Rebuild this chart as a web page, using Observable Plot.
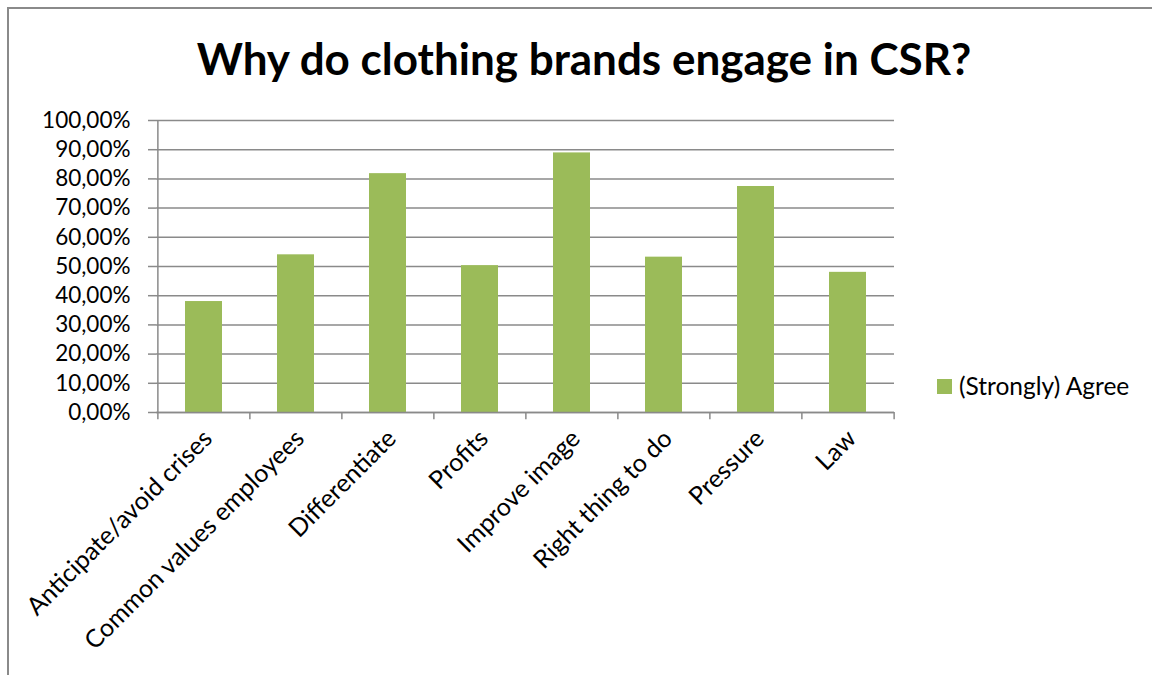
<!DOCTYPE html>
<html>
<head>
<meta charset="utf-8">
<script src="https://cdn.jsdelivr.net/npm/d3@7"></script>
<script src="https://cdn.jsdelivr.net/npm/@observablehq/plot@0.6"></script>
<style>
  html, body { margin: 0; padding: 0; background: #fff; }
  #wrap { position: relative; width: 1152px; height: 675px; overflow: hidden; font-family: Lato, "Open Sans", sans-serif; }
  #border { position: absolute; left: 7px; top: 7px; width: 1170px; height: 700px; border: 2px solid #8a8a8a; box-sizing: border-box; }
  #title { position: absolute; left: 8px; width: 1152px; top: 30px; text-align: center; font-weight: 700; font-size: 44px; line-height: 56px; color: #000; margin: 0; }
  #legend { position: absolute; left: 937px; top: 371px; font-size: 24.5px; line-height: 30px; color: #000; display: flex; align-items: center; }
  #legend .sw { width: 15px; height: 15px; background: #9BBB59; margin-right: 7px; }
  #chart { position: absolute; left: 0; top: 0; }
</style>
</head>
<body>
<div id="wrap">
  <div id="border"></div>
  <div id="title">Why do clothing brands engage in CSR?</div>
  <div id="chart"></div>
  <div id="legend"><div class="sw"></div><span id="legtext"></span></div>
</div>
<script>
const categories = ["Anticipate/avoid crises", "Common values employees", "Differentiate", "Profits", "Improve image", "Right thing to do", "Pressure", "Law"];
const values = [0.380, 0.540, 0.818, 0.503, 0.889, 0.532, 0.774, 0.480];
const seriesName = "(Strongly) Agree";
const yTicks = [0, 0.1, 0.2, 0.3, 0.4, 0.5, 0.6, 0.7, 0.8, 0.9, 1.0];

const data = categories.map((c, i) => ({category: c, value: values[i]}));
const fmt = d => (d * 100).toFixed(2).replace(".", ",") + "%";

const W = 1152, H = 675, mL = 156, mR = 258, mT = 120, mB = 263;
const step = (W - mL - mR) / categories.length;
const grey = "#8a8a8a";

document.getElementById("legtext").textContent = seriesName;

const chart = Plot.plot({
  width: W, height: H,
  marginLeft: mL, marginRight: mR, marginTop: mT, marginBottom: mB,
  style: {fontFamily: "Lato, 'Open Sans', sans-serif", fontSize: "22px", color: "#000", background: "transparent", overflow: "visible"},
  x: {domain: categories, paddingInner: 0.6, paddingOuter: 0.3, label: null},
  y: {domain: [0, 1], label: null},
  marks: [
    Plot.gridY(yTicks, {stroke: grey, strokeOpacity: 1, strokeWidth: 1.5}),
    Plot.barY(data, {x: "category", y: "value", fill: "#9BBB59"}),
    Plot.ruleY([0], {stroke: grey, strokeWidth: 1.5}),
    Plot.ruleX([categories[0]], {y1: 0, y2: 1, dx: -step / 2, stroke: grey, strokeWidth: 1.5}),
    Plot.ruleX(categories, {y1: 0, y2: -0.025, dx: -step / 2, stroke: grey, strokeWidth: 1.5}),
    Plot.ruleX([categories[categories.length - 1]], {y1: 0, y2: -0.025, dx: step / 2, stroke: grey, strokeWidth: 1.5}),
    Plot.axisY(yTicks, {tickFormat: fmt, tickSize: 8, tickPadding: 18, stroke: grey, strokeWidth: 1.5, strokeOpacity: 1, fill: "#000", fontSize: 22.5, label: null}),
    Plot.axisX({tickSize: 0, tickPadding: 22, dx: 4, tickRotate: -45, fill: "#000", fontSize: 25, label: null})
  ]
});
document.getElementById("chart").appendChild(chart);
</script>
</body>
</html>
